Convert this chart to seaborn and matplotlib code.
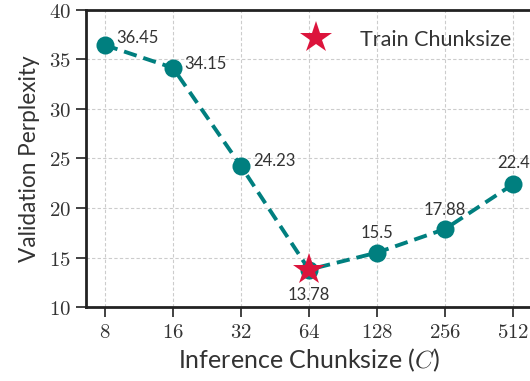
import matplotlib
matplotlib.use("Agg")
import matplotlib.pyplot as plt
import seaborn as sns
import pandas as pd

chunk_sizes = [8, 16, 32, 64, 128, 256, 512]
perplexity = [36.45, 34.15, 24.23, 13.78, 15.5, 17.88, 22.4]
train_chunk = 64
train_label = "Train Chunksize"
x_label = r"Inference Chunksize ($C$)"
y_label = "Validation Perplexity"
y_ticks = [10, 15, 20, 25, 30, 35, 40]

sns.set_theme(style="ticks")
plt.rcParams["font.family"] = ["Lato", "DejaVu Sans"]
plt.rcParams["mathtext.fontset"] = "cm"

df = pd.DataFrame({"chunk": chunk_sizes, "ppl": perplexity})

fig = plt.figure(figsize=(5.30, 3.81), dpi=100)
ax = fig.add_axes([0.162, 0.194, 0.842, 0.780])

teal = "#007f7f"
crimson = "#dc143c"

sns.lineplot(data=df, x="chunk", y="ppl", ax=ax, color=teal, lw=2.8,
             linestyle=(0, (3.4, 1.8)), marker="o", markersize=13,
             markeredgewidth=0, zorder=3)

train = df[df["chunk"] == train_chunk]
ax.plot(train["chunk"], train["ppl"], linestyle="none", marker="*",
        markersize=24, color=crimson, markeredgewidth=0, zorder=5,
        label=train_label)

ax.set_xscale("log", base=2)
ax.set_xlim(8 / 2 ** 0.28, 512 * 2 ** 0.28)
ax.set_ylim(10, 40)
ax.set_xticks(chunk_sizes)
ax.set_xticklabels([f"${c}$" for c in chunk_sizes])
ax.minorticks_off()
ax.set_yticks(y_ticks)
ax.set_yticklabels([f"${v}$" for v in y_ticks])
ax.tick_params(axis="both", labelsize=15, length=7, width=1.3,
               color="#333333", labelcolor="#333333", pad=4)

ax.grid(True, linestyle=(0, (3, 2)), color="#cccccc", lw=0.8)
ax.set_axisbelow(True)
for side in ["left", "bottom", "top", "right"]:
    ax.spines[side].set_color("#222222")
    ax.spines[side].set_linewidth(2.0)

ax.set_xlabel(x_label, fontsize=18, color="#333333", labelpad=3)
ax.set_ylabel(y_label, fontsize=16.3, color="#333333", labelpad=6)

# value labels
offsets = {8: (8, 5, "left"), 16: (8, 3, "left"), 32: (9, 4, "left"),
           64: (0, -18, "center"), 128: (0, 14, "center"),
           256: (0, 14, "center"), 512: (0, 15, "center")}
for c, v in zip(chunk_sizes, perplexity):
    dx, dy, ha = offsets[c]
    ax.annotate(f"{v:g}", (c, v), xytext=(dx, dy), textcoords="offset points",
                ha=ha, va="center", fontsize=12, color="#333333", zorder=6)

ax.legend(loc="center left", bbox_to_anchor=(0.467, 0.899), frameon=False,
          fontsize=15.5, handletextpad=1.05, borderpad=0, borderaxespad=0,
          labelcolor="#333333")

fig.savefig("out.png", dpi=100)
